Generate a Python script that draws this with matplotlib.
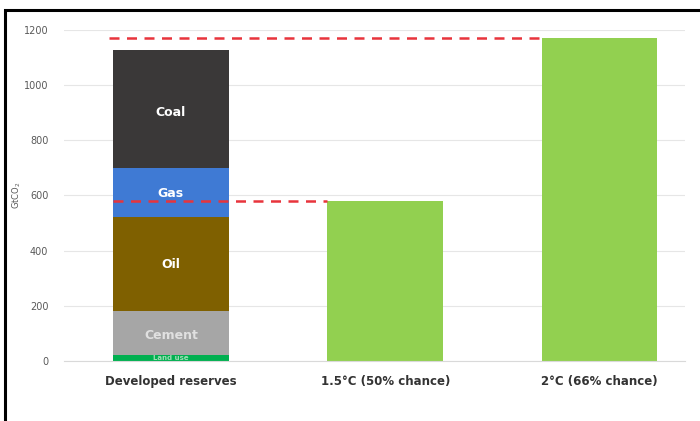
import numpy as np
import matplotlib
matplotlib.use('Agg')
import matplotlib.pyplot as plt
from matplotlib.patches import Rectangle

categories = ['Developed reserves', '1.5°C (50% chance)', '2°C (66% chance)']
stack_names = ['Land use', 'Cement', 'Oil', 'Gas', 'Coal']
stack_values = [20, 160, 342, 178, 428]
stack_colors = ['#00b050', '#a6a6a6', '#7f6000', '#3f7ad4', '#3a3838']
budget_values = [580, 1170]
yticks = [0, 200, 400, 600, 800, 1000, 1200]

fig = plt.figure(figsize=(7, 4.21), dpi=100)
ax = fig.add_axes([0.091, 0.1425, 0.888, 0.787])

width = 0.54
x = np.arange(len(categories))
bottom = 0
for name, val, col in zip(stack_names, stack_values, stack_colors):
    ax.bar(x[0], val, width, bottom=bottom, color=col, zorder=2)
    if name == 'Land use':
        ax.text(x[0], bottom + val / 2, name, ha='center', va='center',
                fontsize=5, color='#9fdcb5', fontweight='bold', zorder=3)
    else:
        tc = '#e0e0e0' if name == 'Cement' else 'white'
        dy = {'Gas': -6, 'Coal': -15, 'Cement': -8}.get(name, 0)
        ax.text(x[0], bottom + val / 2 + dy, name, ha='center', va='center',
                fontsize=9, color=tc, fontweight='bold', zorder=3)
    bottom += val

ax.bar(x[1:], budget_values, width, color='#92d050', zorder=2)

# dashed reference lines
ax.plot([x[0] - width / 2 - 0.02, x[2] - width / 2], [budget_values[1]] * 2,
        color='#e8343c', lw=1.8, ls=(0, (4, 3)), zorder=4)
ax.plot([x[0] - width / 2, x[1] - width / 2], [budget_values[0]] * 2,
        color='#e8343c', lw=1.8, ls=(0, (4, 3)), zorder=4)

ax.set_xlim(-0.5, 2.4)
ax.set_ylim(0, 1200)
ax.set_yticks(yticks)
ax.set_yticklabels([str(t) for t in yticks], fontsize=7, color='#595959')
ax.set_xticks(x)
ax.set_xticklabels(categories, fontsize=8.5, fontweight='bold', color='#333333')
ax.tick_params(axis='both', length=0)
ax.tick_params(axis='x', pad=10)
ax.tick_params(axis='y', pad=11)
ax.yaxis.grid(True, color='#e6e6e6', lw=0.8, zorder=0)
ax.set_axisbelow(True)
for s in ['top', 'right', 'left']:
    ax.spines[s].set_visible(False)
ax.spines['bottom'].set_color('#d9d9d9')
ax.set_ylabel('GtCO$_2$', fontsize=6, color='#595959', labelpad=4)
ax.yaxis.set_label_coords(-0.066, 0.5)

# outer frame (left and top edges visible)
fig.patches.append(Rectangle((5 / 700, -0.1), 1.2, (411 / 421) + 0.1,
                             transform=fig.transFigure, fill=False,
                             edgecolor='black', lw=2.2))

fig.savefig('out.png', dpi=100)
